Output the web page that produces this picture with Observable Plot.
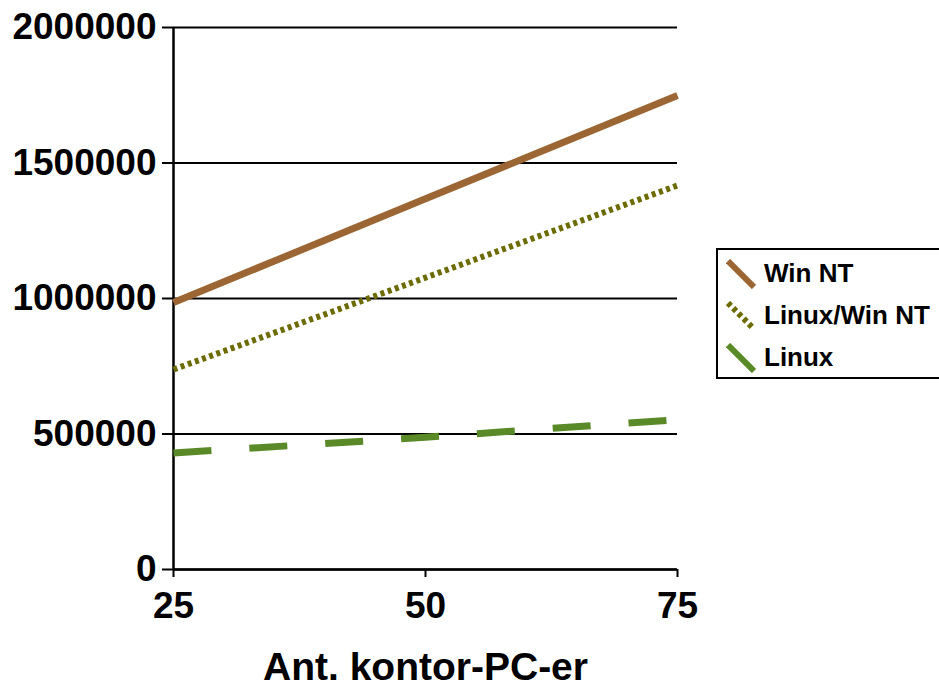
<!DOCTYPE html>
<html>
<head>
<meta charset="utf-8">
<script src="https://cdn.jsdelivr.net/npm/d3@7"></script>
<script src="https://cdn.jsdelivr.net/npm/@observablehq/plot@0.6"></script>
<style>
  html, body { margin: 0; padding: 0; background: #fff; overflow: hidden; }
  #wrap { position: relative; width: 939px; height: 686px; }
  #legend {
    position: absolute; left: 716px; top: 248px; width: 240px; height: 127px;
    border: 2px solid #000; background: #fff; box-sizing: content-box;
    font-family: "Liberation Sans", Arial, sans-serif; font-weight: bold; font-size: 26px;
  }
  .item { position: absolute; left: 8px; display: flex; align-items: center; }
  .item svg { margin-right: 8px; }
</style>
</head>
<body>
<div id="wrap"><div id="chart"></div><div id="legend"></div></div>
<script>
const xValues = [25, 50, 75];
const xTicks = [25, 50, 75];
const yTicks = [0, 500000, 1000000, 1500000, 2000000];
const seriesNames = ["Win NT", "Linux/Win NT", "Linux"];
const winNT = [985000, 1368000, 1749000];
const linuxWinNT = [738000, 1077000, 1417000];
const linux = [430000, 488000, 553000];
const xLabel = "Ant. kontor-PC-er";

const colors = {"Win NT": "#9c6634", "Linux/Win NT": "#6b6b00", "Linux": "#5a8a27"};
const dashes = {"Win NT": null, "Linux/Win NT": "4,3.6", "Linux": "38,38"};
const widths = {"Win NT": 7, "Linux/Win NT": 6, "Linux": 7};

const seriesValues = [winNT, linuxWinNT, linux];
const rows = [];
seriesNames.forEach((name, i) => xValues.forEach((x, j) => rows.push({series: name, x, y: seriesValues[i][j]})));

const font = "'Liberation Sans', Arial, sans-serif";
const plot = Plot.plot({
  width: 939, height: 686,
  marginLeft: 173, marginRight: 262, marginTop: 27, marginBottom: 117,
  style: {fontFamily: font, fontWeight: "bold", color: "#000", background: "#fff", overflow: "visible"},
  x: {domain: [25, 75]},
  y: {domain: [0, 2000000]},
  marks: [
    Plot.gridY(yTicks, {stroke: "#000", strokeOpacity: 1, strokeWidth: 2}),
    Plot.ruleX([25], {stroke: "#000", strokeWidth: 2.5}),
    Plot.ruleY([0], {stroke: "#000", strokeWidth: 2.5}),
    Plot.axisY(yTicks, {tickSize: 11, tickPadding: 6, strokeWidth: 2, tickFormat: d3.format("d"), fontSize: 37, label: null}),
    Plot.axisX(xTicks, {tickSize: 8, tickPadding: 14, strokeWidth: 2, tickFormat: d3.format("d"), fontSize: 37, label: null}),
    Plot.axisX([], {label: xLabel, labelAnchor: "center", labelArrow: "none", labelOffset: 110, fontSize: 39, tickSize: 0}),
    ...seriesNames.map(name => Plot.line(rows.filter(d => d.series === name), {
      x: "x", y: "y", stroke: colors[name], strokeWidth: widths[name],
      strokeDasharray: dashes[name], strokeLinecap: "butt", strokeLinejoin: "round"
    }))
  ]
});
document.getElementById("chart").appendChild(plot);

const legend = document.getElementById("legend");
seriesNames.forEach((name, i) => {
  const div = document.createElement("div");
  div.className = "item";
  div.style.top = (8 + i * 42) + "px";
  const dash = name === "Linux/Win NT" ? `stroke-dasharray="4,3.4"` : "";
  div.innerHTML = `<svg width="30" height="30"><line x1="2" y1="2" x2="28" y2="28" stroke="${colors[name]}" stroke-width="6" ${dash}/></svg><span>${name}</span>`;
  legend.appendChild(div);
});
</script>
</body>
</html>
